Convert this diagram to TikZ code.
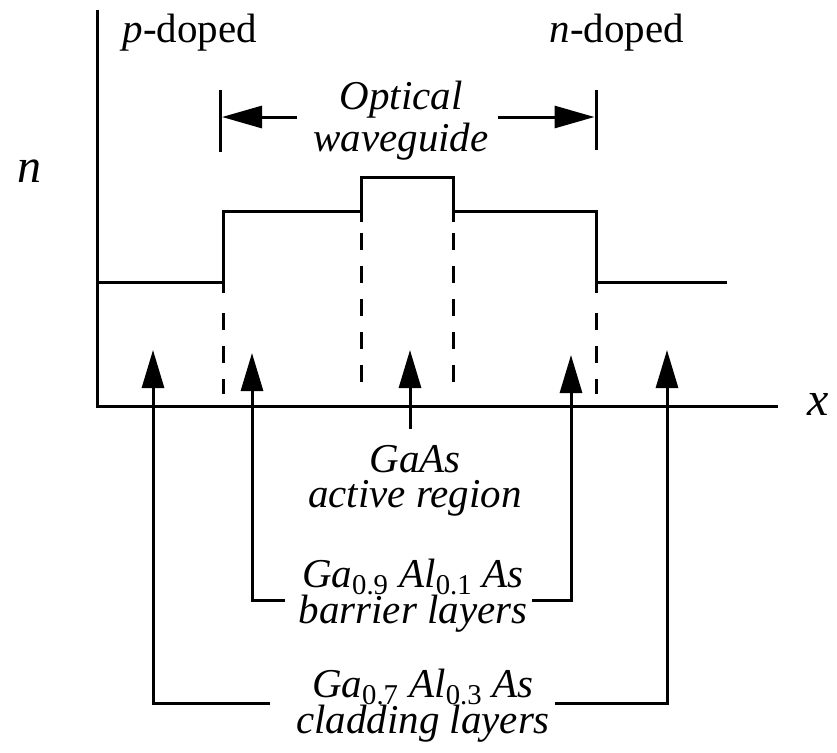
\documentclass[tikz,border=0pt]{standalone}
\usepackage{fontspec}
\setmainfont{Liberation Serif}
\usetikzlibrary{arrows.meta}
\newcommand\chemsub[1]{\textsubscript{\upshape #1}}
\begin{document}
\begin{tikzpicture}[x=0.5pt,y=-0.5pt,
  line width=1.5pt, line join=miter,
  arr/.style={-{Triangle[length=19pt,width=11pt]}, line width=1.5pt},
  harr/.style={-{Triangle[length=20pt,width=11pt]}, line width=1.5pt},
  dashline/.style={dash pattern=on 8.5pt off 8pt, line width=1.5pt},
  lbl/.style={font=\fontsize{20.5}{18}\selectfont\itshape, align=center, inner sep=0pt},
  doping/.style={font=\fontsize{20.5}{24}\selectfont, inner sep=0pt, anchor=base},
  axlbl/.style={font=\fontsize{24}{28}\selectfont\itshape, inner sep=0pt, anchor=base}]
\useasboundingbox (0,0) rectangle (837,752);

% axes
\coordinate (ytop) at (97,10);
\coordinate (origin) at (97,406);
\coordinate (xend) at (778,406);
\draw (ytop) -- (origin) -- (xend);
\node[axlbl] (nlab) at (30,182) {n};
\node[axlbl] (xlab) at (818,415) {x};

% refractive index profile
\draw (97,282) -- (223,282) -- (223,211) -- (361,211) -- (361,177)
      -- (453,177) -- (453,211) -- (596,211) -- (596,282) -- (727,282);
\draw (223,282) -- (223,293);
\draw (596,282) -- (596,293);
\draw (361,211) -- (361,222);
\draw (453,211) -- (453,222);

% layer boundaries
\draw[dashline] (223,313) -- (223,394);
\draw[dashline] (596,313) -- (596,394);
\draw[dashline] (361,233) -- (361,390);
\draw[dashline] (453,233) -- (453,390);

% doping labels
\node[doping] (pdop) at (190,42) {\textit{p}-doped};
\node[doping] (ndop) at (617,42) {\textit{n}-doped};

% optical waveguide extent
\coordinate (wgL) at (220,117);
\coordinate (wgR) at (596,117);
\draw (220,90) -- (220,152);
\draw (596,90) -- (596,150);
\node[lbl, font=\fontsize{20.5}{21}\selectfont\itshape] (wg) at (401,121) {Optical\\waveguide};
\draw[harr] (wg.west |- wgL) ++(-15,0) -- ([xshift=1pt]wgL);
\draw[harr] (wg.east |- wgR) ++(8,0) -- ([xshift=-0.75pt]wgR);

% layer labels
\node[lbl, font=\fontsize{20.5}{17.5}\selectfont\itshape] (gaas) at (415,481) {GaAs\\active region};
\node[lbl] (barrier) at (413,596) {Ga\chemsub{0.9} Al\chemsub{0.1} As\\barrier layers};
\node[lbl] (clad) at (423,706) {Ga\chemsub{0.7} Al\chemsub{0.3} As\\cladding layers};

% pointers to the layers
\coordinate (tipA) at (410,350);
\coordinate (tipBL) at (252,353);
\coordinate (tipBR) at (571,355);
\coordinate (tipCL) at (153,350);
\coordinate (tipCR) at (667,350);
\coordinate (bL) at (285,600);
\coordinate (bR) at (532,600);
\coordinate (cL) at (270,703);
\coordinate (cR) at (555,703);

\draw[arr] (tipA |- gaas.north) ++(0,-15) -- (tipA);
\draw[arr] (bL) -| (tipBL);
\draw[arr] (bR) -| (tipBR);
\draw[arr] (cL) -| (tipCL);
\draw[arr] (cR) -| (tipCR);
\end{tikzpicture}
\end{document}
